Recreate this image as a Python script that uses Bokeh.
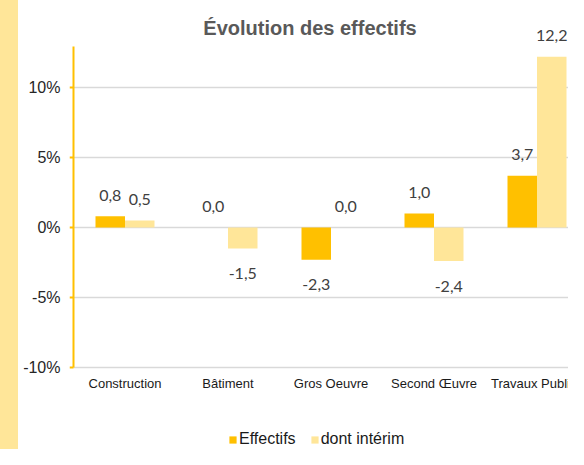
from bokeh.plotting import figure
from bokeh.models import (Range1d, FixedTicker, LabelSet, ColumnDataSource, Legend,
                          LegendItem, Label, Div)
from bokeh.core.properties import value
from bokeh.layouts import row
from bokeh.embed import file_html
from bokeh.resources import INLINE

# ---- data ----
categories = ["Construction", "Bâtiment", "Gros Oeuvre", "Second Œuvre", "Travaux Publics"]
effectifs = [0.8, 0.0, -2.3, 1.0, 3.7]
interim = [0.5, -1.5, 0.0, -2.4, 12.2]
y_ticks = [-10, -5, 0, 5, 10]
y_tick_labels = ["-10%", "-5%", "0%", "5%", "10%"]
series_names = ["Effectifs", "dont intérim"]
series_colors = ["#FFC000", "#FFE699"]
title_text = "Évolution des effectifs"

# ---- layout constants (pixels) ----
STRIP_W = 18
FIG_W, FIG_H = 550, 449
S = 103.0              # px per category
PY = 14.0              # px per percent
BAR_W = 29.5 / S
AXIS_X = 73 - STRIP_W  # axis line position inside figure
FRAME_L = 69 - STRIP_W
Y_AXIS_TOP = 12.93     # top of the orange axis line (percent)
Y_AXIS_BOTTOM = -10
AXIS_BOTTOM_PX = 367

x_start = -(AXIS_X - FRAME_L) / S
x_end = (FIG_W - AXIS_X) / S
y_end = Y_AXIS_TOP + 46 / PY
y_start = Y_AXIS_BOTTOM - (FIG_H - AXIS_BOTTOM_PX) / PY

p = figure(width=FIG_W, height=FIG_H, output_backend="svg", toolbar_location=None,
           x_range=Range1d(x_start, x_end), y_range=Range1d(y_start, y_end),
           x_axis_location=None,
           min_border_left=FRAME_L, min_border_right=0, min_border_top=0,
           min_border_bottom=0)
p.outline_line_color = None
p.background_fill_color = "white"
p.border_fill_color = "white"
p.xgrid.visible = False
p.ygrid.visible = False

# gridlines
p.segment(x0=[0] * len(y_ticks), y0=y_ticks, x1=[x_end] * len(y_ticks), y1=y_ticks,
          line_color="#D9D9D9", line_width=1.5)

centers = [i + 0.5 for i in range(len(categories))]
x_eff = [c - BAR_W / 2 for c in centers]
x_int = [c + BAR_W / 2 for c in centers]

src_eff = ColumnDataSource(dict(x=x_eff, top=effectifs))
src_int = ColumnDataSource(dict(x=x_int, top=interim))

r1 = p.vbar(x="x", top="top", bottom=0, width=BAR_W, source=src_eff,
            fill_color=series_colors[0], line_color=None)
r2 = p.vbar(x="x", top="top", bottom=0, width=BAR_W, source=src_int,
            fill_color=series_colors[1], line_color=None)

# orange y axis line and ticks
p.segment(x0=[0], y0=[Y_AXIS_BOTTOM], x1=[0], y1=[Y_AXIS_TOP],
          line_color="#FFC000", line_width=2)
p.segment(x0=[x_start] * len(y_ticks), y0=y_ticks, x1=[0] * len(y_ticks), y1=y_ticks,
          line_color="#FFC000", line_width=2)

# y axis (labels only)
ya = p.yaxis[0]
ya.ticker = FixedTicker(ticks=y_ticks)
ya.major_label_overrides = {t: l for t, l in zip(y_ticks, y_tick_labels)}
ya.axis_line_color = None
ya.major_tick_line_color = None
ya.major_tick_out = 0
ya.major_tick_in = 0
ya.minor_tick_line_color = None
ya.major_label_text_font = "Liberation Sans"
ya.major_label_text_font_size = "16px"
ya.major_label_text_color = "#262626"
ya.major_label_standoff = 9

# category labels (below the axis bottom)
p.text(x=centers, y=[Y_AXIS_BOTTOM - 16 / PY] * len(categories), text=categories,
       text_align="center", text_baseline="middle",
       text_font=value("Liberation Sans"), text_font_size=value("13px"),
       text_color="#1a1a1a")

# data labels
def fmt(v):
    return f"{v:.1f}".replace(".", ",")

lx = x_eff + x_int
vals = effectifs + interim
lab_src = ColumnDataSource(dict(
    x=lx, y=vals, txt=[fmt(v) for v in vals],
    off=[21 if v >= 0 else -25 for v in vals]))
p.add_layout(LabelSet(x="x", y="y", text="txt", y_offset="off", source=lab_src,
                      text_align="center", text_baseline="middle",
                      text_font=value("Lato"), text_font_size=value("16px"),
                      text_color=value("#404040")))

# title
p.add_layout(Label(x=(309.5 - 73) / S, y=Y_AXIS_TOP + (46 - 28) / PY,
                   text=title_text, text_align="center", text_baseline="middle",
                   text_font="Liberation Sans", text_font_style="bold",
                   text_font_size="20px", text_color="#595959"))

# legend
legend = Legend(items=[LegendItem(label=series_names[0], renderers=[r1]),
                       LegendItem(label=series_names[1], renderers=[r2])],
                location=(228 - 69, 1), orientation="horizontal",
                glyph_width=9, glyph_height=9, label_standoff=2, spacing=14,
                label_height=16, padding=0, margin=0, border_line_color=None,
                background_fill_alpha=0,
                label_text_font="Liberation Sans", label_text_font_size="16px",
                label_text_color="#1a1a1a")
p.add_layout(legend)

strip = Div(width=STRIP_W, height=FIG_H, margin=0,
            styles={"background-color": "#FFE699"})
layout = row(strip, p, spacing=0)

open("out.html", "w").write(file_html(layout, INLINE))
